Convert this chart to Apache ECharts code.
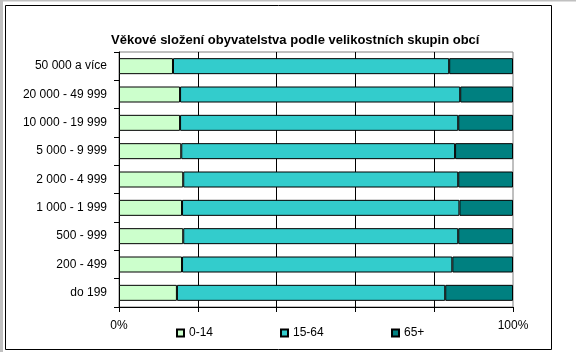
<!DOCTYPE html>
<html>
<head>
<meta charset="utf-8">
<script src="https://cdn.jsdelivr.net/npm/echarts@6/dist/echarts.min.js"></script>
<style>
html,body{margin:0;padding:0;background:#fff;}
#c{width:576px;height:358px;}
</style>
</head>
<body>
<div id="c"></div>
<script>
const categories = ['50 000 a více','20 000 - 49 999','10 000 - 19 999','5 000 - 9 999','2 000 - 4 999','1 000 - 1 999','500 - 999','200 - 499','do 199'];
const seriesNames = ['0-14','15-64','65+'];
const age0_14 = [13.7,15.5,15.5,15.8,16.3,16.0,16.3,16.0,14.7];
const age15_64 = [70.1,71.1,70.6,69.5,69.8,70.4,69.8,68.6,68.1];
const age65 = [16.2,13.4,13.9,14.7,13.9,13.6,13.9,15.4,17.2];
const colors = ['#ccffcc','#33cccc','#008080'];
const xTickLabels = {0:'0%',100:'100%'};

const font = '"Liberation Sans", Arial, sans-serif';
const chart = echarts.init(document.getElementById('c'), null, {renderer:'canvas'});
const dataSets = [age0_14, age15_64, age65];
const legendLeft = [176, 280, 391];
chart.setOption({
  animation:false,
  textStyle:{fontFamily:font},
  title:{
    text:'Věkové složení obyvatelstva podle velikostních skupin obcí',
    left:106, top:29,
    textStyle:{fontFamily:font,fontSize:13,fontWeight:'bold',color:'#000'}
  },
  legend: seriesNames.map((n,i)=>({
    data:[n], left:legendLeft[i], top:327, itemWidth:7, itemHeight:7, itemGap:0,
    icon:'rect', padding:0,
    textStyle:{fontFamily:font,fontSize:12,color:'#000',padding:[0,0,0,0]}
  })),
  graphic:[
    {type:'rect',shape:{x:0,y:0,width:576,height:1.5},style:{fill:'#c0c0c0'},silent:true},
    {type:'rect',shape:{x:0,y:0,width:3,height:352},style:{fill:'#c0c0c0'},silent:true},
    {type:'rect',shape:{x:5.5,y:5.5,width:546,height:344},style:{fill:'none',stroke:'#000',lineWidth:1},silent:true}
  ],
  grid:{left:119,right:63,top:52,bottom:51,show:true,borderColor:'#808080',borderWidth:1,backgroundColor:'transparent'},
  xAxis:{
    type:'value',min:0,max:100,interval:20,
    axisLine:{show:true,lineStyle:{color:'#000',width:1}},
    axisTick:{show:true,length:5,lineStyle:{color:'#000'}},
    axisLabel:{color:'#000',fontSize:12,fontFamily:font,margin:13,
      formatter:v=> (xTickLabels[v]!==undefined? xTickLabels[v] : '')},
    splitLine:{show:true,showMinLine:false,showMaxLine:false,lineStyle:{color:'#000',width:1}}
  },
  yAxis:{
    type:'category',data:categories,inverse:true,
    axisLine:{show:true,lineStyle:{color:'#000',width:1}},
    axisTick:{show:true,length:5,lineStyle:{color:'#000'}},
    axisLabel:{color:'#000',fontSize:12,fontFamily:font,margin:12}
  },
  series: seriesNames.map((n,i)=>({
    name:n,type:'bar',stack:'total',barWidth:16,data:dataSets[i],
    itemStyle:{color:colors[i],borderColor:'#000',borderWidth:1}
  }))
});
</script>
</body>
</html>
